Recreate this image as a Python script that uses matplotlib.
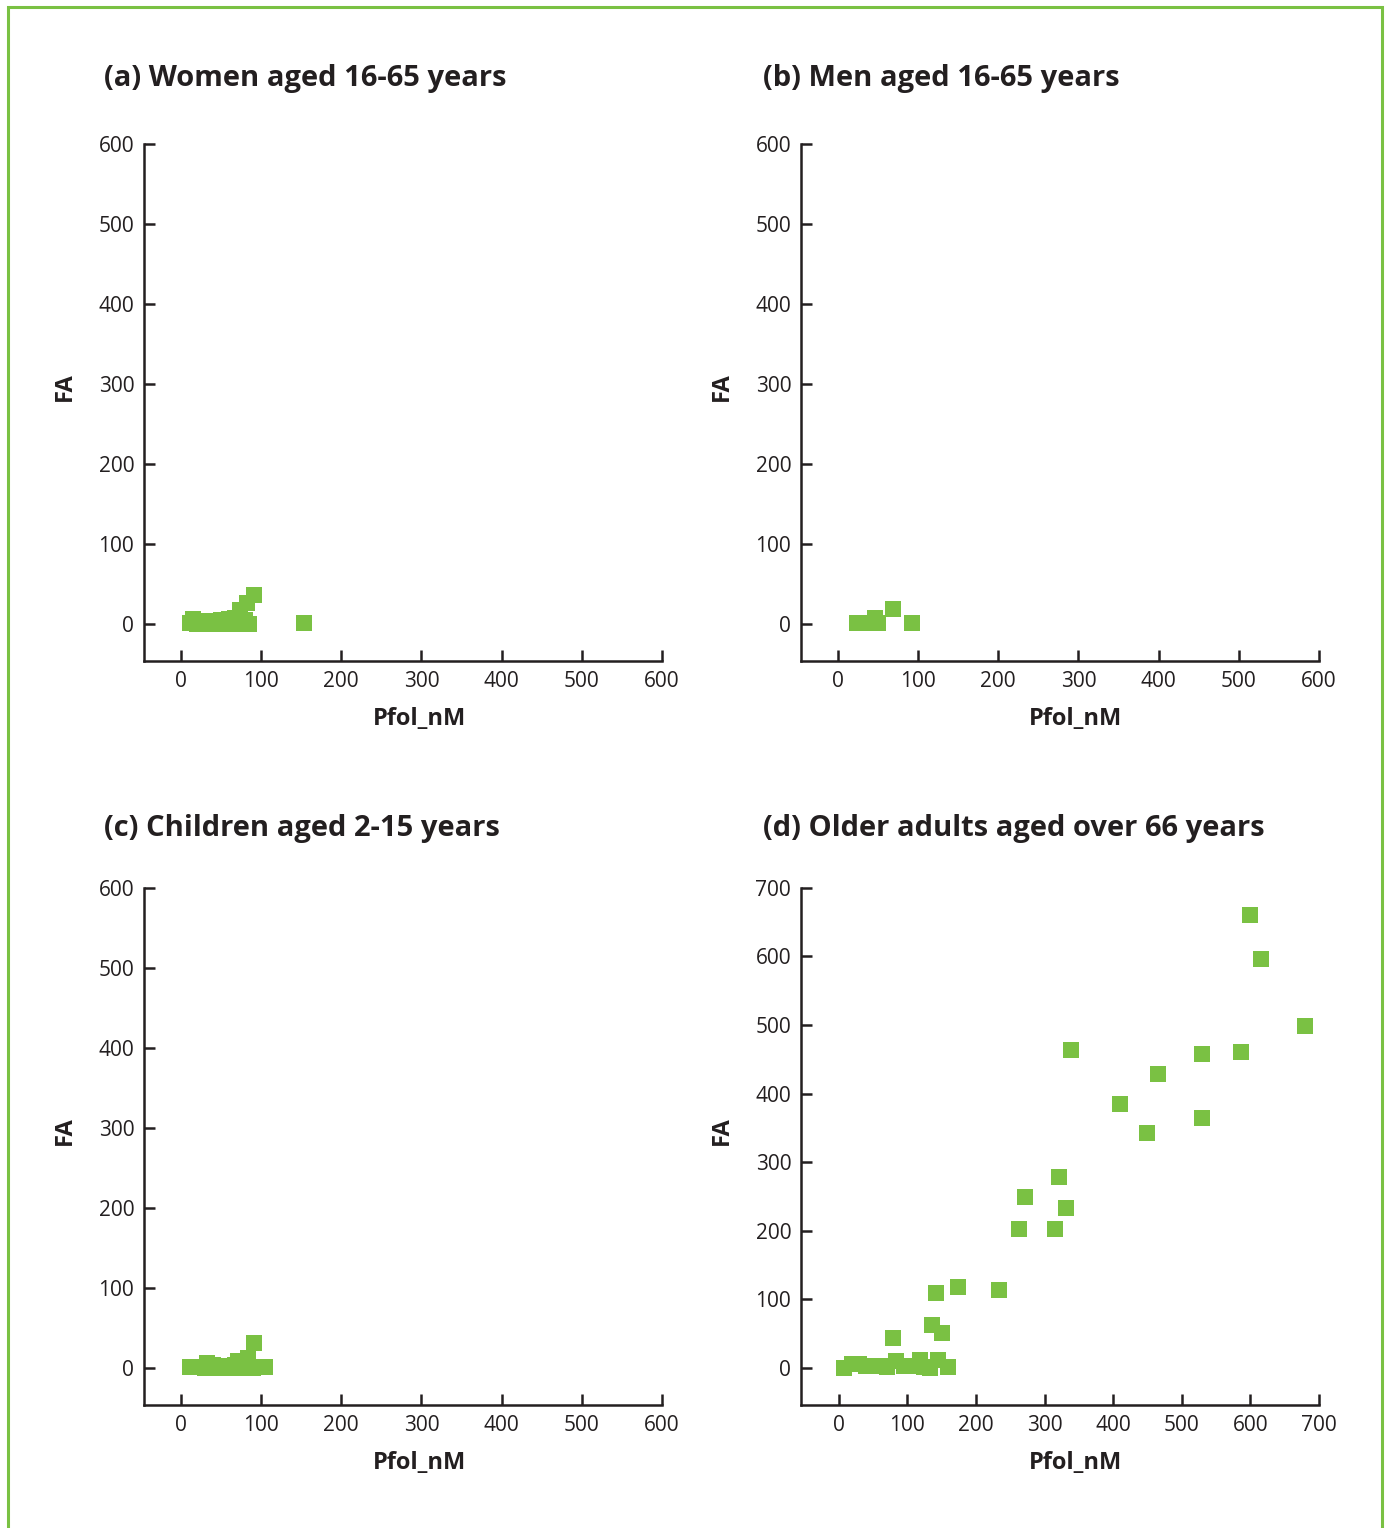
import matplotlib
matplotlib.use("Agg")
import matplotlib.pyplot as plt
from matplotlib.patches import Rectangle

plt.rcParams['font.family'] = ['Open Sans', 'DejaVu Sans']

green = '#7ac143'
ink = '#231f20'

# (a) Women aged 16-65 years
women_x = [11, 15, 20, 25, 30, 35, 40, 45, 50, 55, 60, 63, 68, 74, 80, 85, 83, 91, 154,
           20, 30, 40, 50, 60, 70, 78]
women_y = [1, 7, 4, 3, 3, 3, 4, 4, 5, 5, 6, 7, 8, 18, 5, 0, 27, 37, 1,
           0, 0, 0, 0, 0, 0, 0]

# (b) Men aged 16-65 years
men_x = [24, 35, 46, 50, 69, 93]
men_y = [2, 1, 8, 1, 19, 2]

# (c) Children aged 2-15 years
child_x = [11, 20, 26, 33, 40, 47, 54, 60, 67, 71, 78, 84, 91, 98, 105,
           30, 45, 60, 75, 90]
child_y = [1, 1, 2, 7, 4, 3, 2, 3, 4, 9, 6, 13, 32, 2, 1,
           0, 0, 0, 0, 0]

# (d) Older adults aged over 66 years
old_x = [8, 19, 30, 40, 50, 60, 70, 79, 83, 95, 105, 118, 125, 133, 136, 142, 145, 151, 159,
         174, 234, 263, 271, 315, 321, 331, 338, 410, 449, 465, 529, 529, 586, 600, 615, 679]
old_y = [0, 5, 5, 3, 2, 2, 1, 44, 10, 3, 2, 11, 1, 0, 62, 109, 11, 50, 1,
         118, 114, 203, 249, 203, 278, 233, 464, 384, 343, 428, 457, 364, 460, 660, 597, 499]

panels = [
    ("(a) Women aged 16-65 years", women_x, women_y, 600),
    ("(b) Men aged 16-65 years", men_x, men_y, 600),
    ("(c) Children aged 2-15 years", child_x, child_y, 600),
    ("(d) Older adults aged over 66 years", old_x, old_y, 700),
]

fig = plt.figure(figsize=(13.86, 15.28), dpi=100)

# green frame round the figure
fig.patches.append(Rectangle((0.0058, -0.02), 0.9913, 1.0154, transform=fig.transFigure,
                             fill=False, edgecolor=green, linewidth=2.2))

lefts = [0.1039, 0.5779]
bottoms = [0.5674, 0.0805]
title_x = [0.075, 0.5505]
title_y = [0.9485, 0.4576]

for i, (title, xs, ys, top) in enumerate(panels):
    col, row = i % 2, i // 2
    ax = fig.add_axes([lefts[col], bottoms[row], 0.3737, 0.3384])
    ax.plot(xs, ys, 's', color=green, markersize=12.2, markeredgewidth=0, linestyle='none')

    pad = 46 if top == 600 else 55
    ax.set_xlim(-pad, top)
    ax.set_ylim(-pad * (0.99 if top == 700 else 1), top)
    ax.set_xticks(range(0, top + 1, 100))
    ax.set_yticks(range(0, top + 1, 100))

    for side in ['top', 'right']:
        ax.spines[side].set_visible(False)
    for side in ['left', 'bottom']:
        ax.spines[side].set_color(ink)
        ax.spines[side].set_linewidth(1.8)
    ax.tick_params(direction='in', length=8, width=1.8, color=ink,
                   labelsize=15, labelcolor=ink, pad=7)

    ax.text(0.531, -0.112, 'Pfol_nM', transform=ax.transAxes, ha='center', va='center',
            fontsize=17, fontweight='bold', color=ink)
    ax.text(-0.1525, 0.530, 'FA', transform=ax.transAxes, ha='center', va='center',
            rotation=90, fontsize=17, fontweight='bold', color=ink)

    fig.text(title_x[col], title_y[row], title, ha='left', va='center',
             fontsize=21, fontweight='bold', color=ink)

fig.savefig('out.png', dpi=100)
